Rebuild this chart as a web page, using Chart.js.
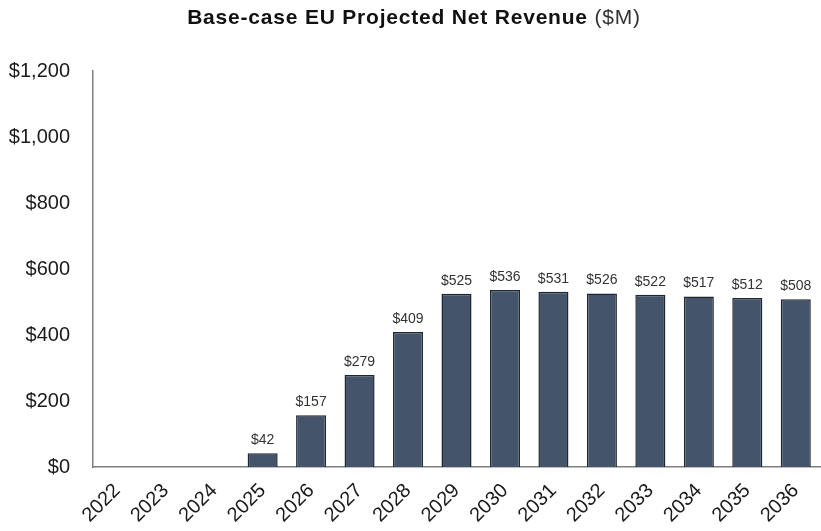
<!DOCTYPE html>
<html>
<head>
<meta charset="utf-8">
<script src="https://cdn.jsdelivr.net/npm/chart.js@4.4.1/dist/chart.umd.min.js"></script>
<style>
  html, body { margin: 0; padding: 0; background: #fff; }
  #wrap { width: 821px; height: 531px; }
</style>
</head>
<body>
<div id="wrap"><canvas id="c" width="821" height="531"></canvas></div>
<script>
const years = ['2022','2023','2024','2025','2026','2027','2028','2029','2030','2031','2032','2033','2034','2035','2036'];
const revenue = [null, null, null, 42, 157, 279, 409, 525, 536, 531, 526, 522, 517, 512, 508];
const yTicks = [0, 200, 400, 600, 800, 1000, 1200];
const titleBold = 'Base-case EU Projected Net Revenue';
const titleUnit = ' ($M)';
const FONT = '"Liberation Sans", Arial, sans-serif';

// title with bold + normal part, drawn by hand
const titlePlugin = {
  id: 'mixedTitle',
  afterDraw(chart) {
    const ctx = chart.ctx;
    ctx.save();
    ctx.letterSpacing = '0.8px';
    ctx.textBaseline = 'middle';
    ctx.textAlign = 'left';
    ctx.font = 'bold 21px ' + FONT;
    const w1 = ctx.measureText(titleBold).width;
    ctx.font = '21px ' + FONT;
    const w2 = ctx.measureText(titleUnit).width;
    const x = 414 - (w1 + w2) / 2;
    ctx.fillStyle = '#111';
    ctx.font = 'bold 21px ' + FONT;
    ctx.fillText(titleBold, x, 18);
    ctx.font = '21px ' + FONT;
    ctx.fillStyle = '#333';
    ctx.fillText(titleUnit, x + w1, 18);
    ctx.restore();
  }
};

// value labels above bars
const labelPlugin = {
  id: 'barLabels',
  afterDatasetsDraw(chart) {
    const ctx = chart.ctx;
    const meta = chart.getDatasetMeta(0);
    ctx.save();
    ctx.font = '14px ' + FONT;
    ctx.fillStyle = '#333';
    ctx.textAlign = 'center';
    ctx.textBaseline = 'bottom';
    meta.data.forEach((bar, i) => {
      const v = revenue[i];
      if (v == null) return;
      ctx.fillText('$' + v, bar.x, bar.y - 6);
    });
    ctx.restore();
  }
};

new Chart(document.getElementById('c'), {
  type: 'bar',
  data: {
    labels: years,
    datasets: [{
      data: revenue,
      backgroundColor: '#44546a',
      borderColor: '#1e2633',
      borderWidth: 1.5,
      barPercentage: 0.62,
      categoryPercentage: 1
    }]
  },
  options: {
    responsive: false,
    animation: false,
    layout: { padding: { top: 71, right: 1, left: 0, bottom: 0 } },
    plugins: {
      legend: { display: false },
      tooltip: { enabled: false }
    },
    scales: {
      x: {
        grid: { display: false, drawTicks: false },
        border: { display: true, color: '#7f7f7f', width: 1.5 },
        ticks: {
          color: '#1a1a1a',
          font: { family: FONT, size: 20 },
          minRotation: 45,
          maxRotation: 45,
          padding: 12,
          autoSkip: false
        },
        afterFit(scale) {
          scale.height = 64;
          scale.paddingLeft = 0;
          scale.paddingRight = 0;
        }
      },
      y: {
        min: 0,
        max: 1200,
        afterBuildTicks(scale) { scale.ticks = yTicks.map(v => ({ value: v })); },
        grid: { display: false, drawTicks: false },
        border: { display: true, color: '#7f7f7f', width: 1.5 },
        ticks: {
          color: '#1a1a1a',
          font: { family: FONT, size: 20 },
          padding: 23,
          callback: v => '$' + v.toLocaleString('en-US')
        },
        afterFit(scale) { scale.width = 93; }
      }
    }
  },
  plugins: [titlePlugin, labelPlugin]
});
</script>
</body>
</html>
